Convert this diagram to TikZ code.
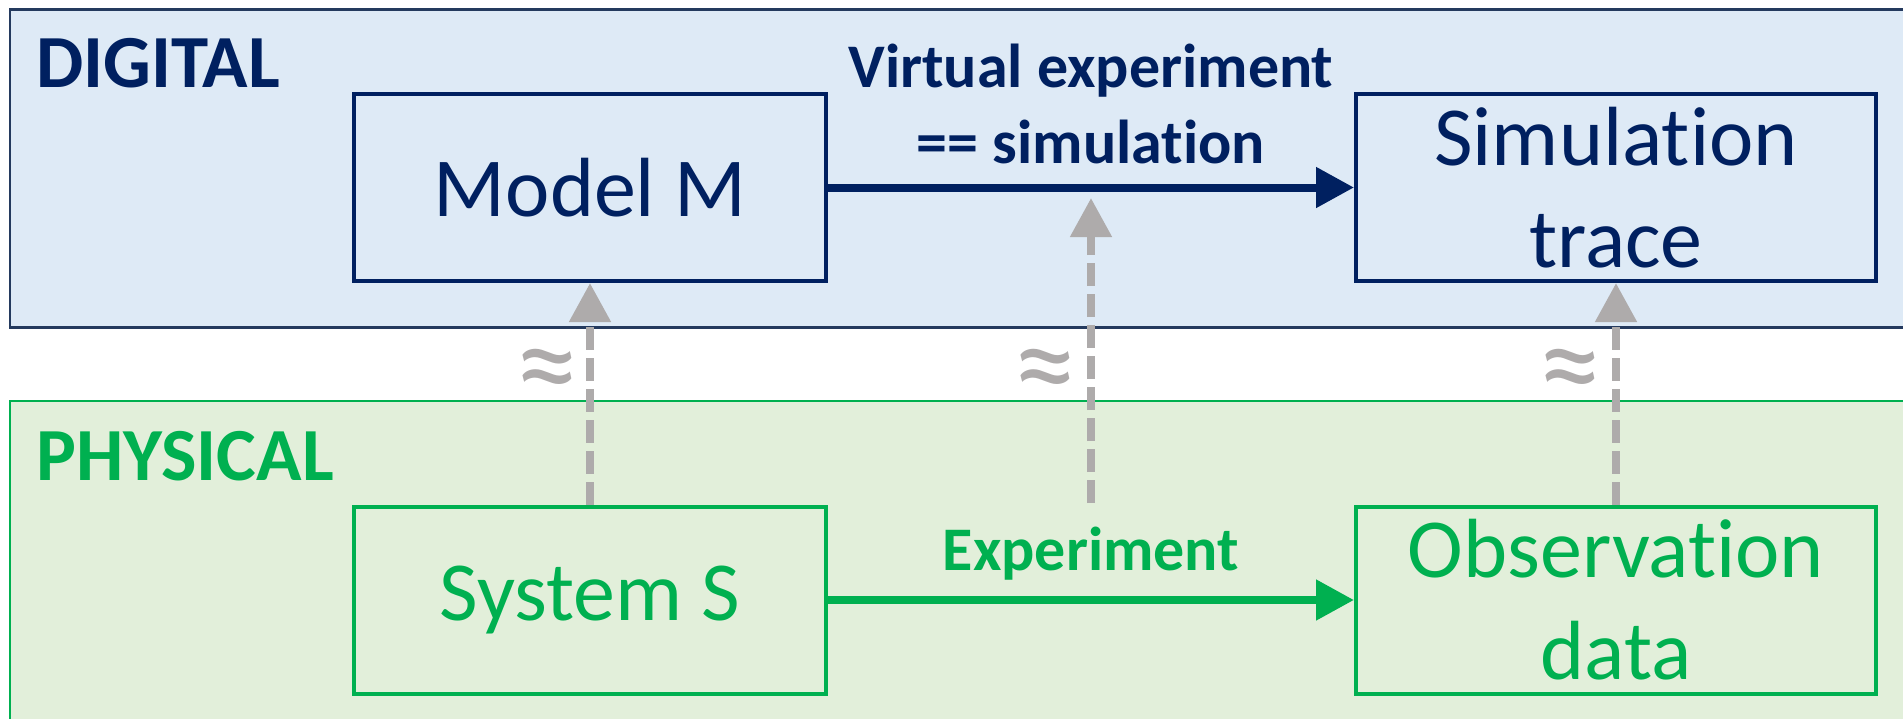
\documentclass[tikz,border=0pt]{standalone}
\usepackage{fontspec}
\setmainfont{Carlito}[Ligatures = NoCommon]
\usetikzlibrary{arrows.meta,positioning}

\definecolor{navy}{HTML}{002060}
\definecolor{leaf}{HTML}{00B050}
\definecolor{skyfill}{HTML}{DEEAF6}
\definecolor{grassfill}{HTML}{E2EFDA}
\definecolor{frameblue}{HTML}{243A5E}
\definecolor{hintgray}{HTML}{AEABAB}

\begin{document}
\begin{tikzpicture}[x = 1pt, y = -1pt,
    every node/.style = { inner sep = 0pt },
    panel/.style = { line width = 2.5pt },
    box/.style = { draw, line width = 4pt, minimum height = 187pt, align = center,
                   font = \fontsize{84}{102}\selectfont },
    tag/.style = { anchor = base west, font = \fontsize{75}{90}\selectfont\bfseries },
    flowtext/.style = { align = center, font = \fontsize{62}{76}\selectfont\bfseries },
    flow/.style = { line width = 8pt, -{Triangle[length = 38pt, width = 39pt]} },
    hint/.style = { hintgray, line width = 8pt, dash pattern = on 23pt off 8pt,
                    -{Triangle[length = 39pt, width = 40pt]} },
    approx/.style = { hintgray, font = \fontsize{128}{150}\selectfont }]

  \useasboundingbox (0,0) rectangle (1903,718);
  \clip (0,0) rectangle (1903,718);

  % the two worlds
  \draw [panel, frameblue, fill = skyfill] (10,9.5) rectangle (1920,327.5);
  \draw [panel, leaf, fill = grassfill] (10,401) rectangle (1920,740);
  \node [tag, navy] (digital) at (36,87) {DIGITAL};
  \node [tag, leaf] (physical) at (36,480) {PHYSICAL};

  % boxes
  \node [box, navy, minimum width = 472pt] (model) at (590,187.5) {Model M};
  \node [box, navy, minimum width = 520pt] (trace) at (1616,187.5) {Simulation \\ trace};
  \node [box, leaf, minimum width = 472pt] (system) at (590,600) {System S};
  \node [box, leaf, minimum width = 520pt] (obs) at (1616,600) {Observation \\ data};

  % experiments
  \draw [flow, navy] (model) -- node [flowtext, above = 20pt] (virtual) {Virtual experiment \\ == simulation} (trace);
  \draw [flow, leaf] (system) -- node [flowtext, above = 16pt] (experiment) {Experiment} (obs);

  % approximations
  \coordinate (simfoot) at (1091,503);
  \coordinate (simtip) at (1091,198);
  \draw [hint] (system) -- (model);
  \draw [hint] (simfoot) -- (simtip);
  \draw [hint] (obs) -- (trace);
  \node [approx] (approxM) at (547,378) {≈};
  \node [approx] (approxX) at (1045,378) {≈};
  \node [approx] (approxT) at (1570,378) {≈};
\end{tikzpicture}
\end{document}
